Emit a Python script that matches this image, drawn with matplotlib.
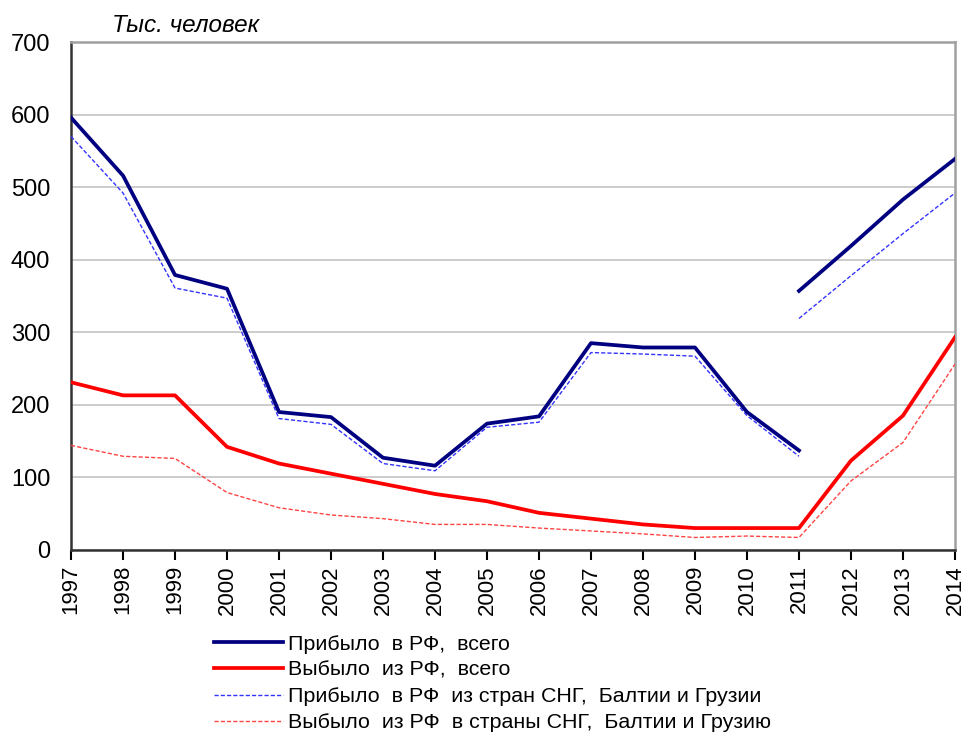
import numpy as np
import matplotlib
matplotlib.use("Agg")
import matplotlib.pyplot as plt

plt.rcParams['font.family'] = ['Liberation Sans', 'DejaVu Sans']

years = np.arange(1997, 2015)
# прибыло в РФ, всего (два участка: 1997-2011 и 2011-2014)
arr_total_1 = [596, 516, 379, 360, 190, 183, 127, 116, 174, 184, 285, 279, 279, 190, 137]
arr_total_2 = [357, 419, 483, 539]
# прибыло из стран СНГ, Балтии и Грузии
arr_cis_1 = [570, 492, 361, 347, 181, 173, 119, 109, 169, 176, 272, 270, 267, 185, 129]
arr_cis_2 = [319, 378, 436, 492]
# выбыло из РФ, всего
dep_total = [231, 213, 213, 142, 119, 105, 91, 77, 67, 51, 43, 35, 30, 30, 30, 123, 185, 293]
# выбыло в страны СНГ, Балтии и Грузию
dep_cis = [144, 129, 126, 79, 58, 48, 43, 35, 35, 30, 26, 22, 17, 19, 17, 95, 148, 256]

labels = ["Прибыло  в РФ,  всего",
          "Выбыло  из РФ,  всего",
          "Прибыло  в РФ  из стран СНГ,  Балтии и Грузии",
          "Выбыло  из РФ  в страны СНГ,  Балтии и Грузию"]

fig = plt.figure(figsize=(9.65, 7.4), dpi=100)
ax = fig.add_axes([0.0736, 0.257, 0.916, 0.686])

navy = '#000080'
red = '#ff0000'
blue = '#3333ff'
lred = '#ff4444'

l1, = ax.plot(years[:15], arr_total_1, color=navy, lw=2.7, zorder=4)
ax.plot(years[14:], arr_total_2, color=navy, lw=2.7, zorder=4)
l2, = ax.plot(years, dep_total, color=red, lw=2.7, zorder=4)
l3, = ax.plot(years[:15], arr_cis_1, color=blue, lw=1.0, ls=(0, (3, 1.5)), zorder=3)
ax.plot(years[14:], arr_cis_2, color=blue, lw=1.0, ls=(0, (3, 1.5)), zorder=3)
l4, = ax.plot(years, dep_cis, color=lred, lw=1.0, ls=(0, (3, 1.5)), zorder=3)

ax.set_xlim(1997, 2014)
ax.set_ylim(0, 700)
ax.set_yticks(range(0, 701, 100))
ax.set_xticks(years)
ax.set_xticklabels([str(y) for y in years], rotation=90, fontsize=16)
ax.tick_params(axis='y', length=0, labelsize=17, pad=15)
ax.tick_params(axis='x', length=7, width=1.5, direction='out', pad=4)
ax.grid(axis='y', color='#c8c8c8', lw=1.3)
ax.set_axisbelow(True)

for s in ['left', 'bottom']:
    ax.spines[s].set_color('#333333')
    ax.spines[s].set_linewidth(1.8)
for s in ['top', 'right']:
    ax.spines[s].set_color('#a0a0a0')
    ax.spines[s].set_linewidth(1.8)

fig.text(0.116, 0.966, "Тыс. человек", fontsize=17.5, style='italic', va='center')

fig.legend([l1, l2, l3, l4], labels, loc='upper left', bbox_to_anchor=(0.222, 0.142),
           frameon=False, fontsize=15.4, handlelength=3.2, handletextpad=0.25,
           labelspacing=0.33, borderaxespad=0, borderpad=0)

fig.savefig("out.png", dpi=100)
